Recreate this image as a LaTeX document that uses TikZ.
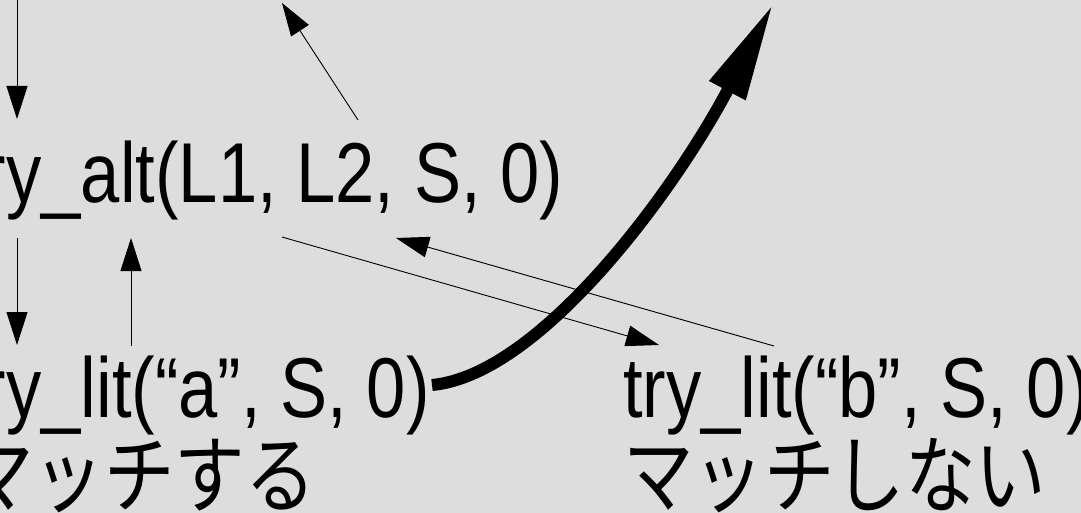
\documentclass[tikz,border=0pt]{standalone}
\usepackage{fontspec}
\setmainfont{Liberation Sans}[FakeStretch=0.83]
\newfontfamily\jpfont{Noto Sans CJK JP}[FakeStretch=0.83]
\usetikzlibrary{arrows.meta}
\definecolor{canvas}{RGB}{221,221,221}

\begin{document}
\begin{tikzpicture}[x=1pt, y=-1pt, font=\fontsize{85}{100}\selectfont,
  call/.style={inner sep=0pt, anchor=base west},
  jp/.style={call, font=\jpfont\fontsize{85}{100}\selectfont},
  link/.style={line width=0.9pt, -{Triangle[length=33pt, width=21pt]}},
  jump/.style={line width=12pt, -{Triangle[length=98pt, width=38pt]}}]

\fill [canvas] (0,0) rectangle (1081,513);
\useasboundingbox (0,0) rectangle (1081,513);

% calls
\node [call] (alt) at (-37,203) {try\_alt(L1, L2, S, 0)};
\node [call] (lita) at (-37,417) {try\_lit(“a”, S, 0)};
\node [call] (litb) at (623,417) {try\_lit(“b”, S, 0)};
\node [jp] (oka) at (-37,506) {マッチする};
\node [jp] (ng) at (623,506) {マッチしない};

% ends in the caller above
\coordinate (seqa) at (17,-2);
\coordinate (seqb) at (282,3);
\coordinate (seqc) at (773,4);

\draw [link] (seqa) -- ([shift={(54,-84)}]alt.base west);
\draw [link] ([shift={(54,35)}]alt.base west) -- ([shift={(54,-72)}]lita.base west);
\draw [link] ([shift={(168,-71)}]lita.base west) -- ([shift={(168,35)}]alt.base west);
\draw [link] ([shift={(395,-83)}]alt.base west) -- (seqb);
\draw [link] ([shift={(319,34)}]alt.base west) -- ([shift={(36,-72)}]litb.base west);
\draw [link] ([shift={(151,-71)}]litb.base west) -- ([shift={(433,35)}]alt.base west);

\draw [jump] ([shift={(469,-32)}]lita.base west) .. controls (540,375) and (675,190) .. (seqc);

\end{tikzpicture}
\end{document}
